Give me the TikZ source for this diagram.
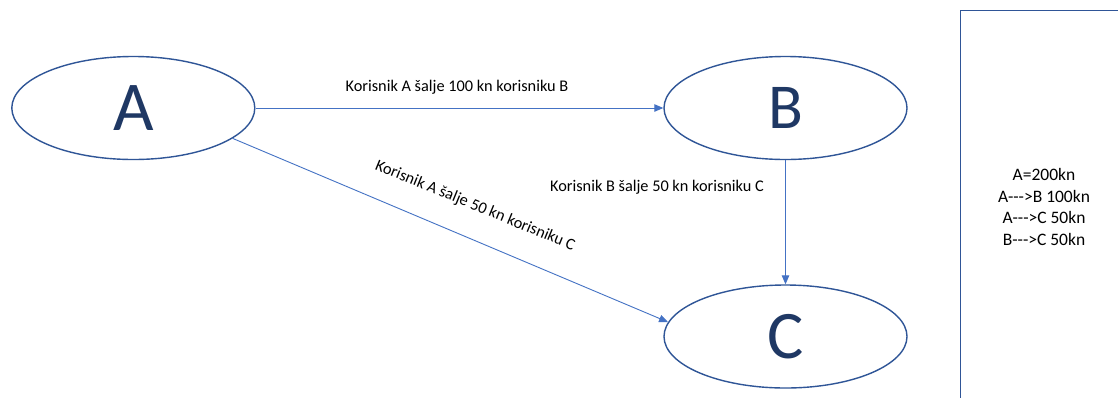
\documentclass[tikz,border=0pt]{standalone}
\usepackage{fontspec}
\setmainfont{Carlito}
\usetikzlibrary{shapes.geometric,arrows.meta}
\definecolor{ellblue}{HTML}{2F5597}
\definecolor{arrblue}{HTML}{4472C4}
\definecolor{letter}{HTML}{1F3864}
\tikzset{
  user/.style={ellipse, draw=ellblue, line width=1.4pt, minimum width=243pt, minimum height=103pt, inner sep=0pt, text=letter},
  flow/.style={draw=arrblue, line width=0.9pt, -{Triangle[length=9pt,width=7.5pt]}},
  lbl/.style={font=\fontsize{16.3}{20}\selectfont, text=black, inner sep=0pt},
}
\begin{document}
\begin{tikzpicture}[x=1pt,y=-1pt]
\useasboundingbox[fill=white] (0,0) rectangle (1118,397);
\node[user, font=\fontsize{70}{76}\selectfont] (A) at (133.3,108) {A};
\node[user, font=\fontsize{64}{70}\selectfont] (B) at (785.5,108) {B};
\node[user, font=\fontsize{68}{74}\selectfont] (C) at (785.5,336.5) {C};
\draw[flow] (A.east) -- (B.west);
\draw[flow] (B.south) -- (C.north);
\draw[flow] (A.-17) -- (C.173);
\node[lbl] (lab) at (457,87) {Korisnik A šalje 100 kn korisniku B};
\node[lbl] (lbc) at (657,187) {Korisnik B šalje 50 kn korisniku C};
\node[lbl, rotate=-22.3] (lac) at (475,206) {Korisnik A šalje 50 kn korisniku C};
\node[draw=ellblue, line width=1.4pt, anchor=north west, minimum width=200pt, minimum height=420pt, inner sep=0pt] (box) at (960,10) {};
\node[align=center, font=\fontsize{17.5}{21.5}\selectfont, inner sep=0pt] (sum) at (1044,207) {A=200kn\\A-{}-{}->B 100kn\\A-{}-{}->C 50kn\\B-{}-{}->C 50kn};
\end{tikzpicture}
\end{document}
